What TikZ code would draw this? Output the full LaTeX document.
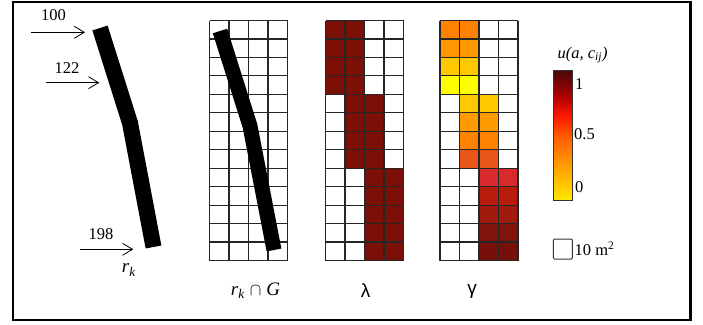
\documentclass[tikz,border=0pt]{standalone}
\usepackage{fontspec}
\setmainfont{Liberation Serif}
\setsansfont{Liberation Sans}
\usetikzlibrary{arrows.meta}
\definecolor{lam}{HTML}{7A1008}
\definecolor{g0}{HTML}{FF8200}
\definecolor{g1}{HTML}{FF9800}
\definecolor{g2}{HTML}{FFC800}
\definecolor{g3}{HTML}{FFFF00}
\definecolor{g4}{HTML}{FFC800}
\definecolor{g5}{HTML}{FF9A00}
\definecolor{g6}{HTML}{FF8200}
\definecolor{g7}{HTML}{E8561C}
\definecolor{g8}{HTML}{D82A2C}
\definecolor{g9}{HTML}{B81C0C}
\definecolor{g10}{HTML}{A01A0E}
\definecolor{g11}{HTML}{80140A}
\definecolor{g12}{HTML}{761008}
\definecolor{cbA}{HTML}{FFE800}
\definecolor{cbB}{HTML}{FF9400}
\definecolor{cbC}{HTML}{FF5A00}
\definecolor{cbD}{HTML}{FF1800}
\definecolor{cbE}{HTML}{B00000}
\definecolor{cbF}{HTML}{4A0808}
\pgfdeclareverticalshading{cbar}{100bp}{color(0bp)=(cbA); color(25bp)=(cbA); color(40bp)=(cbB); color(50bp)=(cbC); color(57.5bp)=(cbD); color(65bp)=(cbE); color(75bp)=(cbF); color(100bp)=(cbF)}
\newcommand{\mycell}[4]{\fill[fill=#4] ({#1+19.5*(#2)},{20.5+18.4615*(#3)}) rectangle +(19.5,18.4615);}
\newcommand{\mygrid}[1]{%
  \foreach \i in {0,...,4} {\draw[gl] ({#1+19.5*\i},20.5) -- ({#1+19.5*\i},260.5);}
  \foreach \j in {0,...,13} {\draw[gl] (#1,{20.5+18.4615*\j}) -- ({#1+78},{20.5+18.4615*\j});}}
\begin{document}
\begin{tikzpicture}[x=1pt,y=-1pt,
  font=\fontsize{16.5}{19}\selectfont,
  every node/.style={inner sep=0pt},
  biglab/.style={font=\fontsize{19}{22}\selectfont},
  gl/.style={line width=1.1pt, black!85},
  road/.style={line width=16pt, black},
  arr/.style={line width=0.8pt, -{Straight Barb[length=10pt,width=12pt]}}]
\useasboundingbox (0,0) rectangle (703,324);
\draw[line width=2.3pt] (13,2.2) rectangle (690.5,320);
% road
\draw[road] (100,28) -- (130,123) -- (153.5,247);
\coordinate (s100) at (31,32.3); \coordinate (e100) at (85,32.3);
\coordinate (s122) at (45.7,82.7); \coordinate (e122) at (99.3,82.7);
\coordinate (s198) at (80,249.3); \coordinate (e198) at (133.3,249.3);
\draw[arr] (s100) -- (e100);
\draw[arr] (s122) -- (e122);
\draw[arr] (s198) -- (e198);
\node (t100) at (53.5,15) {100};
\node (t122) at (67,68) {122};
\node (t198) at (101,234) {198};
\node[biglab] (lrk) at (129,270) {\textit{r}\textsubscript{\textit{k}}};
% grid with road
\mygrid{209.5}
\draw[road, line width=15pt] (220,31) -- (250,126) -- (274,250);
\node[biglab] (lrg) at (255.5,291) {\textit{r}\textsubscript{\textit{k}}\hspace{5pt}$\cap$\hspace{5pt}\textit{G}};
% lambda
\foreach \r in {0,...,3} {\mycell{325.5}{0}{\r}{lam}\mycell{325.5}{1}{\r}{lam}}
\foreach \r in {4,...,7} {\mycell{325.5}{1}{\r}{lam}\mycell{325.5}{2}{\r}{lam}}
\foreach \r in {8,...,12} {\mycell{325.5}{2}{\r}{lam}\mycell{325.5}{3}{\r}{lam}}
\mygrid{325.5}
\node[biglab] (llam) at (365.5,291) {\sffamily λ};
% gamma
\foreach \r/\c/\k in {0/0/g0,1/0/g1,2/0/g2,3/0/g3,4/1/g4,5/1/g5,6/1/g6,7/1/g7,8/2/g8,9/2/g9,10/2/g10,11/2/g11,12/2/g12}
  {\mycell{440}{\c}{\r}{\k}\mycell{440}{\c+1}{\r}{\k}}
\mygrid{440}
\node[biglab] (lgam) at (472,291) {\sffamily γ};
% colour bar
\shade[shading=cbar] (553.3,70.7) rectangle (572.7,200.3);
\draw[line width=1pt, black!80] (553.3,70.7) rectangle (572.7,200.3);
\node (ctitle) at (582.5,55) {\itshape u(a, c\textsubscript{ij})};
\node[anchor=west] (c1) at (575,84) {1};
\node[anchor=west] (c05) at (574,134) {0.5};
\node[anchor=west] (c0) at (575,187) {0};
% legend square
\draw[rounded corners=1.2pt, line width=1pt, black!80] (553.3,239) rectangle (572.3,259);
\node[anchor=west] (lsq) at (574.5,249) {10 m\textsuperscript{2}};
\end{tikzpicture}
\end{document}
